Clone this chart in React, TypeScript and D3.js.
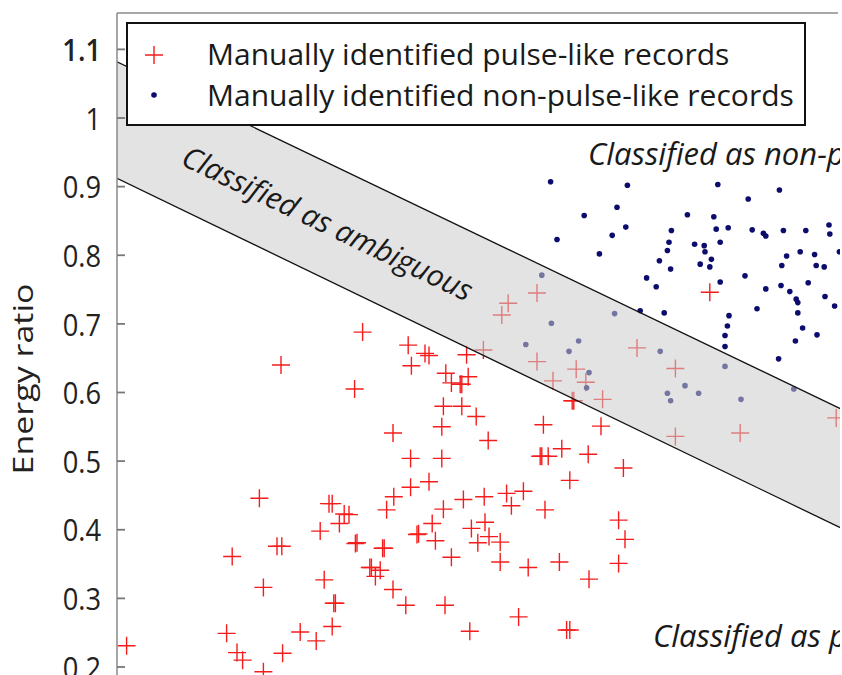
import React from "react";
import * as d3 from "d3";

// ---- data (x: normalised horizontal measure, y: energy ratio) ----
const pulseLike: [number, number][] = [
  [0.012, 0.231], [0.137, 0.249], [0.144, 0.361], [0.150, 0.221], [0.157, 0.210],
  [0.178, 0.446], [0.183, 0.316], [0.183, 0.193], [0.200, 0.376], [0.206, 0.376],
  [0.207, 0.220], [0.205, 0.640], [0.229, 0.251], [0.249, 0.238], [0.254, 0.398],
  [0.259, 0.327], [0.265, 0.438], [0.269, 0.438], [0.269, 0.259], [0.273, 0.293],
  [0.271, 0.293], [0.278, 0.409], [0.284, 0.423], [0.290, 0.422], [0.297, 0.605],
  [0.298, 0.380], [0.300, 0.381], [0.307, 0.688], [0.318, 0.345], [0.316, 0.345],
  [0.323, 0.332], [0.329, 0.341], [0.332, 0.373], [0.334, 0.373], [0.337, 0.429],
  [0.345, 0.541], [0.345, 0.313], [0.346, 0.448], [0.361, 0.290], [0.364, 0.669],
  [0.367, 0.504], [0.367, 0.462], [0.368, 0.639], [0.375, 0.393], [0.377, 0.394],
  [0.385, 0.657], [0.390, 0.654], [0.390, 0.470], [0.394, 0.409], [0.398, 0.384],
  [0.406, 0.550], [0.406, 0.504], [0.408, 0.580], [0.408, 0.430], [0.411, 0.628],
  [0.410, 0.290], [0.418, 0.614], [0.418, 0.360], [0.429, 0.612], [0.431, 0.612],
  [0.431, 0.580], [0.433, 0.444], [0.437, 0.655], [0.439, 0.623], [0.441, 0.252],
  [0.443, 0.402], [0.449, 0.565], [0.451, 0.381], [0.458, 0.662], [0.460, 0.411],
  [0.459, 0.448], [0.464, 0.530], [0.465, 0.390], [0.479, 0.382], [0.479, 0.353],
  [0.487, 0.453], [0.493, 0.435], [0.502, 0.273], [0.508, 0.456], [0.514, 0.345],
  [0.531, 0.507], [0.529, 0.507], [0.533, 0.553], [0.535, 0.429], [0.539, 0.507],
  [0.553, 0.353], [0.556, 0.518], [0.562, 0.254], [0.566, 0.254], [0.566, 0.472],
  [0.569, 0.588], [0.571, 0.588], [0.589, 0.510], [0.590, 0.328], [0.605, 0.551],
  [0.627, 0.414], [0.627, 0.351], [0.633, 0.490], [0.635, 0.386], [0.741, 0.746],
  [0.481, 0.713], [0.489, 0.730], [0.525, 0.745], [0.525, 0.645], [0.545, 0.617],
  [0.574, 0.634], [0.586, 0.615], [0.650, 0.665], [0.698, 0.635], [0.607, 0.590],
  [0.698, 0.536], [0.779, 0.541], [0.899, 0.563],
];

const nonPulseLike: [number, number][] = [
  [0.542, 0.907], [0.638, 0.902], [0.751, 0.903], [0.789, 0.882], [0.828, 0.895],
  [0.625, 0.870], [0.584, 0.858], [0.713, 0.859], [0.746, 0.856], [0.636, 0.841],
  [0.550, 0.823], [0.619, 0.829], [0.693, 0.836], [0.749, 0.838], [0.764, 0.840],
  [0.794, 0.837], [0.808, 0.832], [0.811, 0.828], [0.833, 0.836], [0.861, 0.836],
  [0.890, 0.844], [0.891, 0.831], [0.690, 0.819], [0.688, 0.807], [0.722, 0.816],
  [0.734, 0.814], [0.735, 0.805], [0.754, 0.819], [0.743, 0.794], [0.729, 0.787],
  [0.741, 0.783], [0.603, 0.802], [0.678, 0.792], [0.692, 0.780], [0.662, 0.767],
  [0.674, 0.754], [0.754, 0.761], [0.785, 0.770], [0.854, 0.805], [0.837, 0.799],
  [0.872, 0.801], [0.831, 0.785], [0.874, 0.785], [0.884, 0.783], [0.903, 0.805],
  [0.864, 0.760], [0.830, 0.756], [0.811, 0.751], [0.841, 0.747], [0.849, 0.736],
  [0.851, 0.731], [0.885, 0.740], [0.897, 0.726], [0.800, 0.722], [0.851, 0.716],
  [0.857, 0.694], [0.765, 0.712], [0.763, 0.697], [0.684, 0.716], [0.654, 0.719],
  [0.760, 0.683], [0.760, 0.667], [0.848, 0.675], [0.875, 0.684], [0.827, 0.649],
  [0.531, 0.771], [0.622, 0.715], [0.543, 0.701], [0.511, 0.670], [0.577, 0.675],
  [0.565, 0.660], [0.590, 0.629], [0.587, 0.607], [0.679, 0.660], [0.760, 0.638],
  [0.710, 0.610], [0.688, 0.599], [0.692, 0.588], [0.727, 0.599], [0.780, 0.590],
  [0.846, 0.605],
];

// boundaries of the "ambiguous" band
const bandX = [0, 1];
const bandUpper = [1.082, 0.523];
const bandLower = [0.912, 0.349];

const yTicks = [0.2, 0.3, 0.4, 0.5, 0.6, 0.7, 0.8, 0.9, 1.0, 1.1];
const yTickLabels = ["0.2", "0.3", "0.4", "0.5", "0.6", "0.7", "0.8", "0.9", "1", "1.1"];
const yTop = 1.153;

const legendLabels = [
  "Manually identified pulse-like records",
  "Manually identified non-pulse-like records",
];

export default function App() {
  const W = 842, H = 675;
  const x = d3.scaleLinear().domain([0, 1]).range([117, 917]);
  const y = d3.scaleLinear().domain([0.2, 1.0]).range([667, 118]);
  const x0 = x(0);
  const top = y(yTop);

  const bandData = bandX.map((v, i) => ({ x: v, u: bandUpper[i], l: bandLower[i] }));
  const area = d3.area<any>().x((d) => x(d.x)).y0((d) => y(d.l)).y1((d) => y(d.u));
  const upLine = d3.line<any>().x((d) => x(d.x)).y((d) => y(d.u));
  const loLine = d3.line<any>().x((d) => x(d.x)).y((d) => y(d.l));

  const cross = (cx: number, cy: number, s: number) =>
    `M${cx - s},${cy}H${cx + s}M${cx},${cy - s}V${cy + s}`;

  const font = "'Open Sans', 'DejaVu Sans', sans-serif";
  const angle = (Math.atan2(y(bandUpper[0]) - y(bandUpper[1]), x(bandX[1]) - x(bandX[0])) * -180) / Math.PI;

  return (
    <div style={{ position: "absolute", left: 0, top: 0, width: W, height: H, overflow: "hidden", background: "#fff" }}>
      <svg width={W} height={H} viewBox={`0 0 ${W} ${H}`} style={{ display: "block" }}>
        <defs>
          <clipPath id="plot">
            <rect x={x0} y={top} width={840 - x0} height={H - top} />
          </clipPath>
        </defs>
        <rect width={W} height={H} fill="#fff" />
        <g clipPath="url(#plot)">
          {pulseLike.map((d, i) => (
            <path key={"p" + i} d={cross(x(d[0]), y(d[1]), 9)} stroke="#f51c1c" strokeWidth={1.4} fill="none" />
          ))}
          {nonPulseLike.map((d, i) => (
            <circle key={"n" + i} cx={x(d[0])} cy={y(d[1])} r={2.8} fill="#0c0c6e" />
          ))}
          <path d={area(bandData) || ""} fill="#cccccc" fillOpacity={0.55} />
          <path d={upLine(bandData) || ""} stroke="#111" strokeWidth={1.3} fill="none" />
          <path d={loLine(bandData) || ""} stroke="#111" strokeWidth={1.3} fill="none" />
          <text
            transform={`translate(323,233) rotate(${angle})`}
            textAnchor="middle"
            fontFamily={font}
            fontStyle="italic"
            fontSize={30}
            fill="#1a1a1a"
          >
            Classified as ambiguous
          </text>
          <text x={588} y={165} fontFamily={font} fontStyle="italic" fontSize={31} fill="#1a1a1a">
            Classified as non-pulse
          </text>
          <text x={653} y={647} fontFamily={font} fontStyle="italic" fontSize={31} fill="#1a1a1a">
            Classified as pulse
          </text>
        </g>
        {/* frame */}
        <line x1={x0} x2={838} y1={top} y2={top} stroke="#8a8a8a" strokeWidth={1.5} />
        <line x1={x0} x2={x0} y1={top} y2={H} stroke="#8a8a8a" strokeWidth={1.5} />
        {yTicks.map((t, i) => (
          <g key={"t" + i}>
            <line x1={x0} x2={x0 + 8} y1={y(t)} y2={y(t)} stroke="#777" strokeWidth={1.8} />
            <text
              transform={`translate(101,${y(t)}) scale(0.88,1)`}
              textAnchor="end"
              dominantBaseline="central"
              fontFamily={font}
              fontSize={31}
              fontWeight={t > 1.05 ? 600 : 400}
              fill="#222"
            >
              {yTickLabels[i]}
            </text>
          </g>
        ))}
        <text
          transform={`translate(33,379) scale(0.8,1) rotate(-90)`}
          textAnchor="middle"
          fontFamily={font}
          fontSize={34}
          fill="#222"
        >
          Energy ratio
        </text>
        {/* legend */}
        <rect x={127} y={23} width={678} height={102} fill="#fff" stroke="#111" strokeWidth={2} />
        <path d={cross(154, 55, 9)} stroke="#f51c1c" strokeWidth={1.4} fill="none" />
        <circle cx={154} cy={95} r={2.8} fill="#0c0c6e" />
        <text x={207} y={65} fontFamily={font} fontSize={30} fill="#1a1a1a">
          {legendLabels[0]}
        </text>
        <text x={207} y={106} fontFamily={font} fontSize={30} fill="#1a1a1a">
          {legendLabels[1]}
        </text>
      </svg>
    </div>
  );
}
